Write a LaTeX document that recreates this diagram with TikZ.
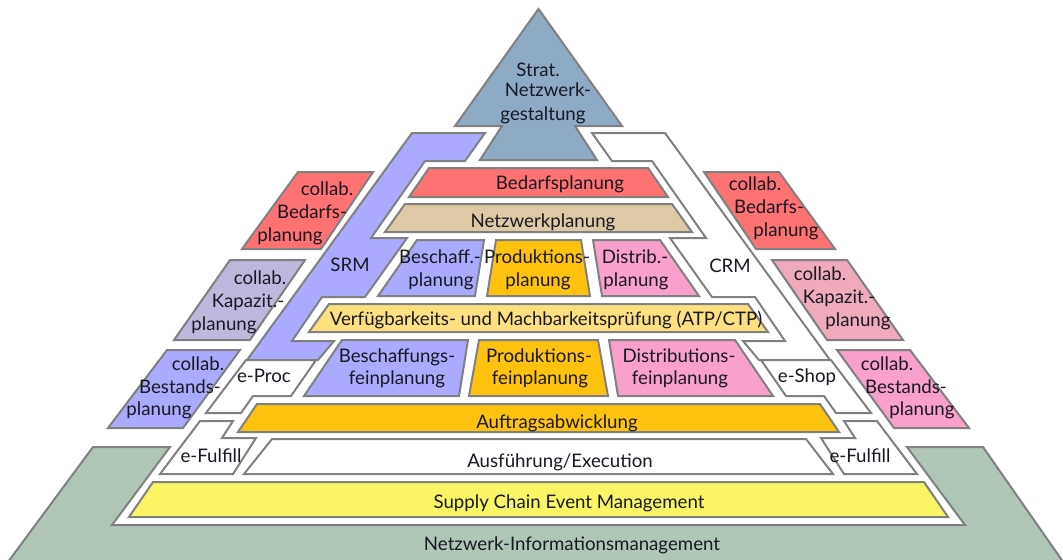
\documentclass[tikz,border=0pt]{standalone}
\usepackage{fontspec}
\setmainfont{Lato}
\definecolor{rim}{RGB}{128,128,128}
\definecolor{ink}{RGB}{25,25,35}
\definecolor{netgreen}{RGB}{176,199,184}
\definecolor{scemyellow}{RGB}{250,245,100}
\definecolor{stratblue}{RGB}{142,170,196}
\definecolor{srmblue}{RGB}{170,170,255}
\definecolor{bedarfred}{RGB}{255,114,114}
\definecolor{netbeige}{RGB}{221,201,164}
\definecolor{prodorange}{RGB}{255,195,15}
\definecolor{atpyellow}{RGB}{255,224,128}
\definecolor{distpink}{RGB}{250,160,205}
\definecolor{kapgray}{RGB}{190,185,220}
\definecolor{kaprose}{RGB}{240,170,187}
\tikzset{
  layer/.style={draw=rim, line width=1.5pt, line join=miter},
  lbl/.style={font=\fontsize{14}{17}\selectfont, text=ink, inner sep=0pt, anchor=base},
}
\begin{document}
\begin{tikzpicture}[x=0.75pt, y=-0.75pt]
  \useasboundingbox (0,0) rectangle (1063,560);
  \clip (0,0) rectangle (1063,560);
  % base and bottom layers
  \draw[layer, fill=netgreen] (5,566) -- (93,447) -- (170,447) -- (112,525) -- (965,525) -- (907,447) -- (983,447) -- (1066,566) -- cycle;
  \draw[layer, fill=scemyellow] (153,482) -- (924,482) -- (948,517) -- (129,517) -- cycle;
  \draw[layer, fill=white] (272,439) -- (806,439) -- (833,474) -- (244,474) -- cycle;
  \draw[layer, fill=white] (200,421) -- (233,421) -- (222,438) -- (256,438) -- (233,474) -- (160,474) -- cycle;
  \draw[layer, fill=white] (844,421) -- (877,421) -- (917,474) -- (844,474) -- (821,438) -- (855,438) -- cycle;
  \draw[layer, fill=prodorange] (257,404) -- (820,404) -- (839,432) -- (238,432) -- cycle;
  % SRM and CRM columns
  \draw[layer, fill=srmblue] (412,133) -- (485,133) -- (465,161) -- (425,161) -- (371,238) -- (407,238) -- (365,297) -- (322,297) -- (292,341) -- (334,341) -- (318,360) -- (247,360) -- cycle;
  \draw[layer, fill=white] (592,133) -- (665,133) -- (830,360) -- (759,360) -- (743,341) -- (785,341) -- (755,297) -- (712,297) -- (670,238) -- (706,238) -- (652,161) -- (612,161) -- cycle;
  \draw[layer, fill=white] (246,360) -- (316,360) -- (291,396) -- (253,396) -- (241,413) -- (206,413) -- cycle;
  \draw[layer, fill=white] (831,360) -- (761,360) -- (786,396) -- (824,396) -- (836,413) -- (871,413) -- cycle;
  % planning layers
  \draw[layer, fill=srmblue] (342,340) -- (468,340) -- (459,396) -- (304,396) -- cycle;
  \draw[layer, fill=prodorange] (479,340) -- (598,340) -- (608,396) -- (469,396) -- cycle;
  \draw[layer, fill=distpink] (609,340) -- (735,340) -- (773,396) -- (618,396) -- cycle;
  \draw[layer, fill=atpyellow] (329,304) -- (748,304) -- (768,332) -- (309,332) -- cycle;
  \draw[layer, fill=srmblue] (417,240) -- (484,240) -- (475,296) -- (378,296) -- cycle;
  \draw[layer, fill=prodorange] (496,240) -- (581,240) -- (590,296) -- (487,296) -- cycle;
  \draw[layer, fill=distpink] (593,240) -- (660,240) -- (699,296) -- (602,296) -- cycle;
  \draw[layer, fill=netbeige] (405,204) -- (672,204) -- (692,232) -- (385,232) -- cycle;
  \draw[layer, fill=bedarfred] (429,168) -- (648,168) -- (668,197) -- (409,197) -- cycle;
  \draw[layer, fill=stratblue] (538.5,9) -- (622,126) -- (575,126) -- (597,160) -- (480,160) -- (502,126) -- (455,126) -- cycle;
  % collaborative boxes
  \draw[layer, fill=bedarfred] (298,172) -- (373,172) -- (321,249) -- (242,249) -- cycle;
  \draw[layer, fill=bedarfred] (704,172) -- (779,172) -- (835,249) -- (756,249) -- cycle;
  \draw[layer, fill=kapgray] (230,260) -- (305,260) -- (250,340) -- (174,340) -- cycle;
  \draw[layer, fill=kaprose] (772,260) -- (847,260) -- (903,340) -- (827,340) -- cycle;
  \draw[layer, fill=srmblue] (167,350) -- (240,350) -- (183,428) -- (108,428) -- cycle;
  \draw[layer, fill=distpink] (837,350) -- (910,350) -- (969,428) -- (894,428) -- cycle;
  % labels
  \foreach \x/\y/\t [count=\i] in {538/76/Strat., 548/97/Netzwerk-, 543/120/gestaltung}
    \node[lbl] (strat\i) at (\x,\y) {\t};
  \node[lbl] (bedarf) at (560,189) {Bedarfsplanung};
  \node[lbl] (netzplan) at (543,227) {Netzwerkplanung};
  \foreach \x/\y/\t [count=\i] in {440/263/Beschaff.-, 441/286/planung}
    \node[lbl] (beschaff\i) at (\x,\y) {\t};
  \foreach \x/\y/\t [count=\i] in {537/263/Produktions-, 538/286/planung}
    \node[lbl] (prod\i) at (\x,\y) {\t};
  \foreach \x/\y/\t [count=\i] in {635/263/Distrib.-, 636/286/planung}
    \node[lbl] (distrib\i) at (\x,\y) {\t};
  \node[lbl] (srm) at (350,271) {SRM};
  \node[lbl] (crm) at (730,272) {CRM};
  \node[lbl] (atp) at (546,325) {Verfügbarkeits- und Machbarkeitsprüfung (ATP/CTP)};
  \foreach \x/\y/\t [count=\i] in {397/362/Beschaffungs-, 397/384/feinplanung}
    \node[lbl] (beschfein\i) at (\x,\y) {\t};
  \foreach \x/\y/\t [count=\i] in {539/362/Produktions-, 540/384/feinplanung}
    \node[lbl] (prodfein\i) at (\x,\y) {\t};
  \foreach \x/\y/\t [count=\i] in {679/362/Distributions-, 680/384/feinplanung}
    \node[lbl] (distfein\i) at (\x,\y) {\t};
  \node[lbl] (eproc) at (264,382) {e-Proc};
  \node[lbl] (eshop) at (807,382) {e-Shop};
  \node[lbl] (auftrag) at (557,428) {Auftragsabwicklung};
  \node[lbl] (ausf) at (560,467) {Ausführung/Execution};
  \node[lbl] (efulL) at (211,462) {e-Fulfill};
  \node[lbl] (efulR) at (860,462) {e-Fulfill};
  \node[lbl] (scem) at (569,508) {Supply Chain Event Management};
  \node[lbl] (nim) at (572,550) {Netzwerk-Informationsmanagement};
  \foreach \x/\y/\t [count=\i] in {327/195/collab., 312/218/Bedarfs-, 290/241/planung}
    \node[lbl] (bedL\i) at (\x,\y) {\t};
  \foreach \x/\y/\t [count=\i] in {755/190/collab., 769/213/Bedarfs-, 786/236/planung}
    \node[lbl] (bedR\i) at (\x,\y) {\t};
  \foreach \x/\y/\t [count=\i] in {260/284/collab., 248/307/Kapazit.-, 224/330/planung}
    \node[lbl] (kapL\i) at (\x,\y) {\t};
  \foreach \x/\y/\t [count=\i] in {820/280/collab., 839/303/Kapazit.-, 858/326/planung}
    \node[lbl] (kapR\i) at (\x,\y) {\t};
  \foreach \x/\y/\t [count=\i] in {198/370/collab., 180/393/Bestands-, 159/415/planung}
    \node[lbl] (bestL\i) at (\x,\y) {\t};
  \foreach \x/\y/\t [count=\i] in {887/370/collab., 906/393/Bestands-, 922/415/planung}
    \node[lbl] (bestR\i) at (\x,\y) {\t};
\end{tikzpicture}
\end{document}
